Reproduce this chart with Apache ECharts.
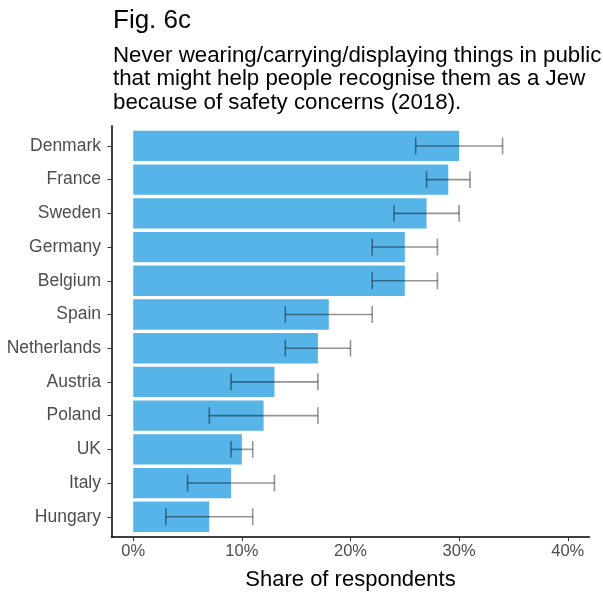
<!DOCTYPE html>
<html>
<head>
<meta charset="utf-8">
<script src="https://cdn.jsdelivr.net/npm/echarts@6/dist/echarts.min.js"></script>
<style>
  html, body { margin: 0; padding: 0; background: #fff; }
  #chart { width: 603px; height: 596px; }
</style>
</head>
<body>
<div id="chart"></div>
<script>
// data (share in %)
const countries = ['Denmark', 'France', 'Sweden', 'Germany', 'Belgium', 'Spain',
  'Netherlands', 'Austria', 'Poland', 'UK', 'Italy', 'Hungary']
const shares = [30, 29, 27, 25, 25, 18, 17, 13, 12, 10, 9, 7]
const lower = [26, 27, 24, 22, 22, 14, 14, 9, 7, 9, 5, 3]
const upper = [34, 31, 30, 28, 28, 22, 20, 17, 17, 11, 13, 11]
const xTicks = [0, 10, 20, 30, 40]

const barColor = '#56B4E9'
const errColor = 'rgba(0,0,0,0.42)'
const rowIdx = countries.map((c, i) => i)

const chart = echarts.init(document.getElementById('chart'))

chart.setOption({
  animation: false,
  title: [{
    text: 'Fig. 6c',
    left: 113,
    top: 8,
    padding: 0,
    textStyle: { fontFamily: 'Liberation Sans', fontSize: 26, fontWeight: 'normal', color: '#000' }
  }, {
    text: 'Never wearing/carrying/displaying things in public\nthat might help people recognise them as a Jew\nbecause of safety concerns (2018).',
    left: 113,
    top: 44,
    padding: 0,
    textStyle: { fontFamily: 'Liberation Sans', fontSize: 22.3, fontWeight: 'normal', color: '#000', lineHeight: 23.5 }
  }],
  grid: {
    left: 111.5,
    right: 13.5,
    top: 125.7,
    bottom: 57.4,
    containLabel: false
  },
  xAxis: {
    type: 'value',
    min: -2,
    max: 42,
    name: 'Share of respondents',
    nameLocation: 'middle',
    nameGap: 32,
    nameTextStyle: { fontFamily: 'Liberation Sans', fontSize: 22, color: '#000' },
    axisLine: { onZero: false, lineStyle: { color: '#000', width: 1.5 } },
    axisTick: { show: true, length: 4, customValues: xTicks, lineStyle: { color: '#333' } },
    axisLabel: {
      customValues: xTicks,
      formatter: v => v + '%',
      fontFamily: 'Liberation Sans',
      fontSize: 16.5,
      color: '#4d4d4d',
      margin: 6
    },
    splitLine: { show: false }
  },
  yAxis: {
    type: 'value',
    inverse: true,
    min: -0.6,
    max: 11.6,
    axisLine: { onZero: false, lineStyle: { color: '#000', width: 1.5 } },
    axisTick: { show: true, length: 4, customValues: rowIdx, lineStyle: { color: '#333' } },
    axisLabel: {
      customValues: rowIdx,
      formatter: v => countries[v],
      fontFamily: 'Liberation Sans',
      fontSize: 17.5,
      color: '#4d4d4d',
      margin: 10.5
    },
    splitLine: { show: false }
  },
  series: [{
    type: 'custom',
    name: 'share',
    data: shares.map((v, i) => [v, i]),
    encode: { x: 0, y: 1 },
    renderItem: (params, api) => {
      const v = api.value(0)
      const i = api.value(1)
      const s = api.coord([0, i])
      const e = api.coord([v, i])
      const h = api.size([0, 1])[1] * 0.9
      return {
        type: 'rect',
        shape: { x: s[0], y: s[1] - h / 2, width: e[0] - s[0], height: h },
        style: { fill: barColor }
      }
    }
  }, {
    type: 'custom',
    name: 'ci',
    data: lower.map((lo, i) => [lo, upper[i], i]),
    encode: { x: [0, 1], y: 2 },
    z: 3,
    renderItem: (params, api) => {
      const i = api.value(2)
      const a = api.coord([api.value(0), i])
      const b = api.coord([api.value(1), i])
      const hw = api.size([0, 1])[1] * 0.25
      const st = { stroke: errColor, lineWidth: 1.6 }
      return {
        type: 'group',
        children: [
          { type: 'line', shape: { x1: a[0], y1: a[1], x2: b[0], y2: b[1] }, style: st },
          { type: 'line', shape: { x1: a[0], y1: a[1] - hw, x2: a[0], y2: a[1] + hw }, style: st },
          { type: 'line', shape: { x1: b[0], y1: b[1] - hw, x2: b[0], y2: b[1] + hw }, style: st }
        ]
      }
    }
  }]
})
</script>
</body>
</html>
